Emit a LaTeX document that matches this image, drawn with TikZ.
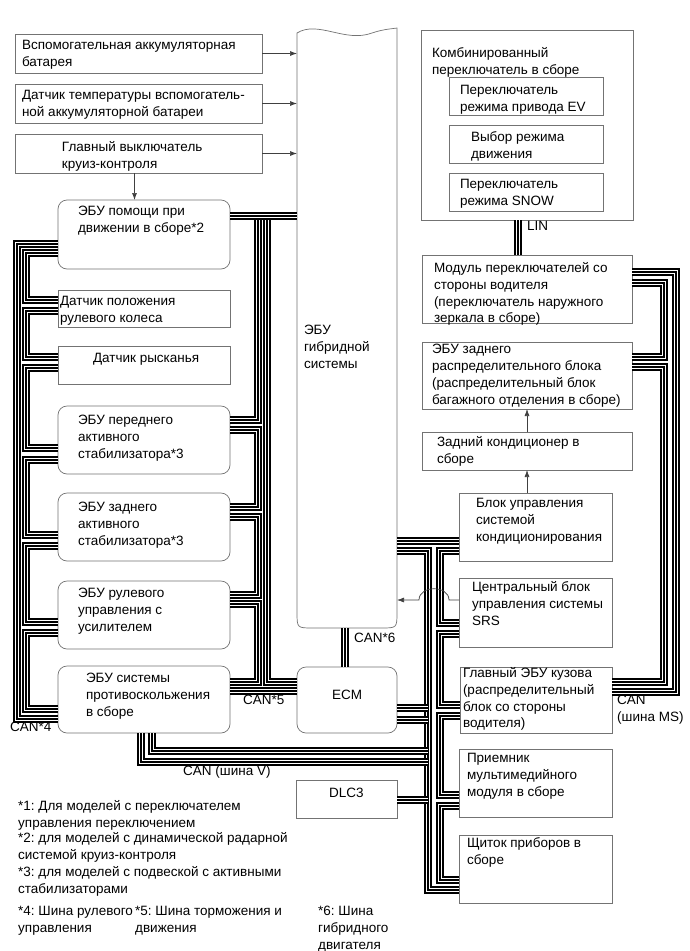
\documentclass[tikz,border=0pt]{standalone}
\usepackage{fontspec}
\setmainfont{Liberation Sans}
\usetikzlibrary{arrows.meta}

% box text: width, height, left inset, top inset, lines
\newcommand\bt[5]{\parbox[t][#2pt][t]{#1pt}{\vspace*{#4pt}\leftskip=#3pt\rightskip=-60pt plus 1fil\parfillskip=0pt plus 1fil\strut #5}}
\newcommand\bc[4]{\parbox[t][#2pt][t]{#1pt}{\vspace*{#3pt}\centering\strut #4}}
\frenchspacing

\begin{document}
\begin{tikzpicture}[x=1pt, y=-1pt,
    font=\fontsize{13.5}{16.8}\selectfont,
    blk/.style={draw=black!55, line width=0.7pt, anchor=north west, inner sep=0pt, outer sep=0pt},
    rblk/.style={blk, rounded corners=9pt},
    lbl/.style={anchor=north west, inner sep=0pt, align=left},
    can/.style={line width=8pt, draw=black, postaction={draw=white, line width=4.4pt}, postaction={draw=black, line width=1.1pt}},
    sig/.style={draw=black!75, line width=0.7pt, -{Latex[length=7pt, width=5pt]}}]
    \fill[white] (0,0) rectangle (690,951);
    \useasboundingbox (0,0) rectangle (690,951);

    % inputs of the hybrid ECU
    \node[blk] (bat) at (15,34) {\bt{247}{39}{7}{3.7}{Вспомогательная аккумуляторная\\батарея}};
    \node[blk] (tsens) at (15,84) {\bt{247}{39}{7}{3.7}{Датчик температуры вспомогатель-\\ной аккумуляторной батареи}};
    \node[blk] (cruise) at (15,134) {\bt{247}{39}{47}{5.7}{Главный выключатель\\круиз-контроля}};

    % left column
    \node[rblk] (acc) at (58,200) {\bt{172}{69}{20}{3.7}{ЭБУ помощи при\\движении в сборе*2}};
    \node[blk] (swa) at (58,290) {\bt{172}{37}{2}{3.7}{Датчик положения\\рулевого колеса}};
    \node[blk] (yaw) at (58,346) {\bt{172}{38}{35}{4.7}{Датчик рысканья}};
    \node[rblk] (fstab) at (58,406) {\bt{172}{68}{20}{6.7}{ЭБУ переднего\\активного\\стабилизатора*3}};
    \node[rblk] (rstab) at (58,493) {\bt{172}{68}{20}{6.7}{ЭБУ заднего\\активного\\стабилизатора*3}};
    \node[rblk] (eps) at (58,581) {\bt{172}{68}{20}{4.7}{ЭБУ рулевого\\управления с\\усилителем}};
    \node[rblk] (abs) at (58,666) {\bt{172}{67}{28}{4.7}{ЭБУ системы\\противоскольжения\\в сборе}};

    % centre
    \node[blk, draw=none] (hyb) at (297,30) {\bt{100}{598}{7}{292.7}{ЭБУ\\гибридной\\системы}};
    \draw[draw=black!55, line width=0.7pt] (297,33) .. controls (318,20) and (345,43) .. (372,33)
        .. controls (384,29) and (391,29) .. (397,28) -- (397,612) .. controls (397,628) .. (381,628)
        -- (313,628) .. controls (297,628) .. (297,612) -- cycle;
    \node[rblk] (ecm) at (297,667) {\bc{100}{66}{20.7}{ECM}};
    \node[blk] (dlc) at (296,780) {\bc{101}{38}{5.7}{DLC3}};

    % right column
    \node[blk] (combo) at (421,30) {\bt{212}{190}{11}{15.7}{Комбинированный\\переключатель в сборе}};
    \node[blk] (ev) at (449,77) {\bt{154}{38}{11}{5.7}{Переключатель\\режима привода EV}};
    \node[blk] (drm) at (449,125) {\bt{154}{38}{22}{4.7}{Выбор режима\\движения}};
    \node[blk] (snow) at (449,173) {\bt{154}{38}{11}{3.7}{Переключатель\\режима SNOW}};
    \node[blk] (mod) at (422,255) {\bt{210}{68}{12}{5.7}{Модуль переключателей со\\стороны водителя\\(переключатель наружного\\зеркала в сборе)}};
    \node[blk] (rdb) at (422,342) {\bt{210}{67}{10}{0}{ЭБУ заднего\\распределительного блока\\(распределительный блок\\багажного отделения в сборе)}};
    \node[blk] (rac) at (422,432) {\bt{210}{38}{15}{2.7}{Задний кондиционер в\\сборе}};
    \node[blk] (acu) at (459,493) {\bt{153}{68}{17}{2.7}{Блок управления\\системой\\кондиционирования}};
    \node[blk] (srs) at (459,578) {\bt{153}{69}{13}{1.7}{Центральный блок\\управления системы\\SRS}};
    \node[blk] (body) at (460,667) {\bt{152}{66}{3}{-1.3}{Главный ЭБУ кузова\\(распределительный\\блок со стороны\\водителя)}};
    \node[blk] (mm) at (459,749) {\bt{153}{68}{8}{1.7}{Приемник\\мультимедийного\\модуля в сборе}};
    \node[blk] (cl) at (459,835) {\bt{153}{68}{8}{0.7}{Щиток приборов в\\сборе}};

    % CAN*4
    \draw[can] (acc.west |- 0,244) -- (17,244) -- (17,719) -- (abs.west |- 0,719);
    \draw[can] (acc.west |- 0,253) -- (26,253) -- (26,300) -- (swa.west |- 0,300);
    \draw[can] (swa.west |- 0,311) -- (26,311) -- (26,357) -- (yaw.west |- 0,357);
    \draw[can] (yaw.west |- 0,368) -- (26,368) -- (26,448) -- (fstab.west |- 0,448);
    \draw[can] (fstab.west |- 0,460) -- (26,460) -- (26,535) -- (rstab.west |- 0,535);
    \draw[can] (rstab.west |- 0,546) -- (26,546) -- (26,622) -- (eps.west |- 0,622);
    \draw[can] (eps.west |- 0,633) -- (26,633) -- (26,709) -- (abs.west |- 0,709);

    % CAN*5
    \draw[can] (acc.east |- 0,216) -- (hyb.west |- 0,216);
    \draw[can] (267,220) -- (267,682) -- (ecm.west |- 0,682);
    \draw[can] (258,220) -- (258,420) -- (fstab.east |- 0,420);
    \draw[can] (fstab.east |- 0,430) -- (258,430) -- (258,507) -- (rstab.east |- 0,507);
    \draw[can] (rstab.east |- 0,517) -- (258,517) -- (258,595) -- (eps.east |- 0,595);
    \draw[can] (eps.east |- 0,604) -- (258,604) -- (258,682) -- (abs.east |- 0,682);
    \draw[can] (abs.east |- 0,691) -- (ecm.west |- 0,691);

    % CAN*6 and LIN
    \draw[can] ([xshift=-2pt]hyb.south) -- ([xshift=-2pt]ecm.north);
    \draw[can] ([xshift=-9pt]combo.south) -- ([xshift=-9pt]combo.south |- mod.north);

    % CAN (MS)
    \draw[can] (mod.east |- 0,272) -- (676,272) -- (676,692) -- (body.east |- 0,692);
    \draw[can] (mod.east |- 0,283) -- (664,283) -- (664,357) -- (rdb.east |- 0,357);
    \draw[can] (rdb.east |- 0,367) -- (664,367) -- (664,682) -- (body.east |- 0,682);

    % CAN (V)
    \draw[can] (hyb.east |- 0,541) -- (acu.west |- 0,541);
    \draw[can] (hyb.east |- 0,551) -- (428,551) -- (428,890) -- (cl.west |- 0,890);
    \draw[can] (acu.west |- 0,551) -- (440,551) -- (440,623) -- (srs.west |- 0,623);
    \draw[can] (srs.west |- 0,634) -- (440,634) -- (440,705) -- (body.west |- 0,705);
    \draw[can] (body.west |- 0,716) -- (440,716) -- (440,795) -- (mm.west |- 0,795);
    \draw[can] (mm.west |- 0,806) -- (440,806) -- (440,880) -- (cl.west |- 0,880);
    \draw[can] (ecm.east |- 0,708) -- (428,708);
    \draw[can] (ecm.east |- 0,720) -- (428,720);
    \draw[can] (abs.south -| 141,0) -- (141,762) -- (428,762);
    \draw[can] (abs.south -| 152,0) -- (152,751) -- (428,751);
    \draw[can] (dlc.east |- 0,800) -- (428,800);

    % signal lines
    \draw[sig] (bat.east) -- (bat.east -| hyb.west);
    \draw[sig] (tsens.east) -- (tsens.east -| hyb.west);
    \draw[sig] (cruise.east) -- (cruise.east -| hyb.west);
    \draw[sig] ([xshift=-4pt]cruise.south) -- ([xshift=-4pt]cruise.south |- acc.north);
    \draw[sig] (acu.north -| rac.south) -- (rac.south);
    \draw[sig] (rac.north) -- (rdb.south);
    \draw[sig] (srs.west |- 0,600) -- (449,600) .. controls (449,585) and (419,585) .. (419,600) -- (hyb.east |- 0,600);

    % bus names
    \node[lbl] (lin) at (527,218.7) {\strut LIN};
    \node[lbl] (can6) at (354,630.7) {\strut CAN*6};
    \node[lbl] (can5) at (243,692.7) {\strut CAN*5};
    \node[lbl] (can4) at (10,719.7) {\strut CAN*4};
    \node[lbl] (canv) at (183,763.7) {\strut CAN (шина V)};
    \node[lbl] (canms) at (617,692.7) {\strut CAN\\(шина MS)};

    % notes
    \node[lbl] (fn1) at (18,798.7) {\strut *1: Для моделей с переключателем\\управления переключением};
    \node[lbl] (fn2) at (18,830.7) {\strut *2: для моделей с динамической радарной\\системой круиз-контроля};
    \node[lbl] (fn3) at (18,864.7) {\strut *3: для моделей с подвеской с активными\\стабилизаторами};
    \node[lbl] (fn4) at (18,903.7) {\strut *4: Шина рулевого\\управления};
    \node[lbl] (fn5) at (135,903.7) {\strut *5: Шина торможения и\\движения};
    \node[lbl] (fn6) at (318,903.7) {\strut *6: Шина\\гибридного\\двигателя};
\end{tikzpicture}
\end{document}
